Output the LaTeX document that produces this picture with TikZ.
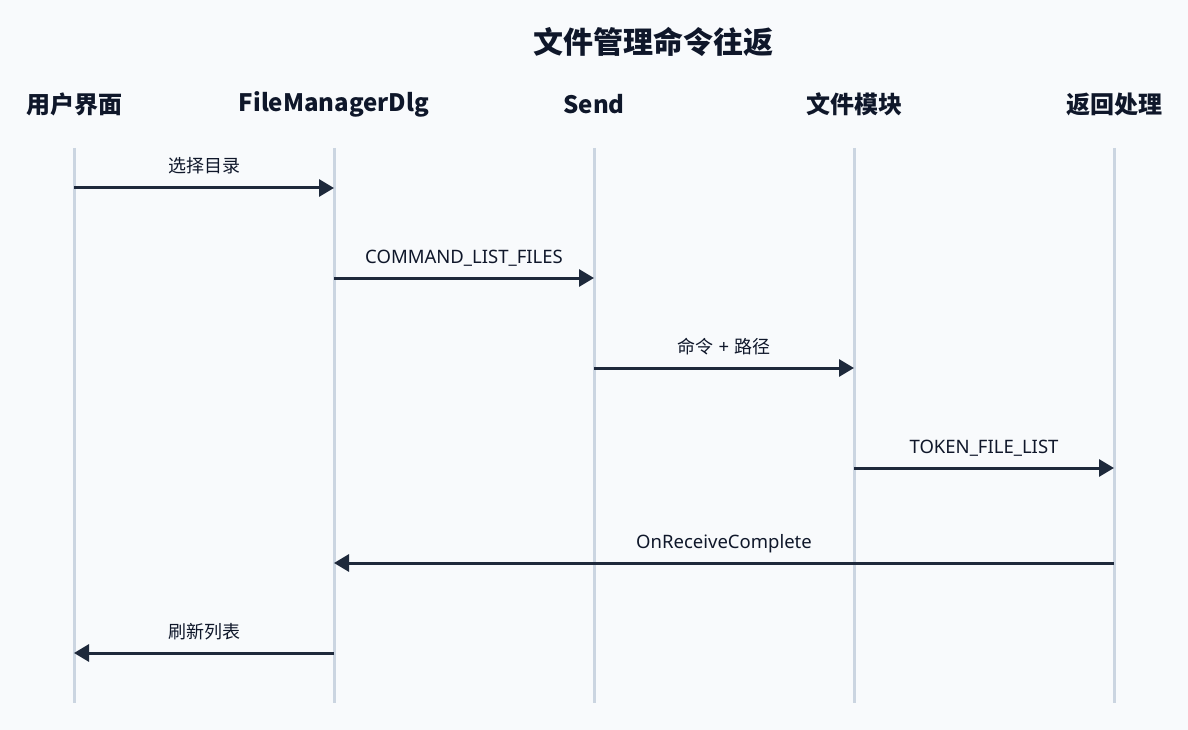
\documentclass[tikz,border=0pt]{standalone}
\usepackage{fontspec}
\setmainfont{Noto Sans}
\newfontfamily\cjk{Noto Sans CJK SC}
\usetikzlibrary{arrows.meta}
\definecolor{bgc}{HTML}{F8FAFC}
\definecolor{lifec}{HTML}{CBD5E1}
\definecolor{msgc}{HTML}{1E293B}
\definecolor{txtc}{HTML}{0F172A}
\tikzset{
  lifeline/.style={draw=lifec, line width=3pt},
  msg/.style={draw=msgc, line width=3pt, -{Triangle[length=15pt,width=17pt]}, shorten >=0pt},
  msglabel/.style={font=\fontsize{18.5}{22}\selectfont, text=txtc, inner sep=0pt, anchor=base},
  cjklabel/.style={font=\cjk\fontsize{18}{20}\selectfont, text=txtc, inner sep=0pt, anchor=base},
  header/.style={font=\cjk\bfseries\fontsize{24}{28}\selectfont, text=txtc, inner sep=0pt},
  titlestyle/.style={font=\cjk\bfseries\fontsize{30}{34}\selectfont, text=txtc, inner sep=0pt},
}
\begin{document}
\begin{tikzpicture}[x=1pt,y=-1pt]
\fill[bgc] (0,0) rectangle (1188,730);
\useasboundingbox (0,0) rectangle (1188,730);
\node[titlestyle] (title) at (653,42) {文件管理命令往返};
% headers
\node[header] (h1) at (74,104) {用户界面};
\node[header] (h2) at (334,104) {FileManagerDlg};
\node[header] (h3) at (594,104) {Send};
\node[header] (h4) at (854,104) {文件模块};
\node[header] (h5) at (1114,104) {返回处理};
% lifelines
\foreach \i/\x in {1/74,2/334,3/594,4/854,5/1114}{
  \coordinate (t\i) at (\x,148);
  \coordinate (b\i) at (\x,703);
  \draw[lifeline] (t\i) -- (b\i);
}
% message points
\coordinate (m1a) at (74,188);  \coordinate (m1b) at (334,188);
\coordinate (m2a) at (334,278); \coordinate (m2b) at (594,278);
\coordinate (m3a) at (594,368); \coordinate (m3b) at (854,368);
\coordinate (m4a) at (854,468); \coordinate (m4b) at (1114,468);
\coordinate (m5a) at (1114,563); \coordinate (m5b) at (334,563);
\coordinate (m6a) at (334,653); \coordinate (m6b) at (74,653);
\draw[msg] (m1a) -- (m1b);
\draw[msg] (m2a) -- (m2b);
\draw[msg] (m3a) -- (m3b);
\draw[msg] (m4a) -- (m4b);
\draw[msg] (m5a) -- (m5b);
\draw[msg] (m6a) -- (m6b);
\node[cjklabel] (l1) at (204,173) {选择目录};
\node[msglabel] (l2) at (464,263) {COMMAND\_LIST\_FILES};
\node[msglabel] (l3) at (724,353) {{\cjk\fontsize{18}{20}\selectfont 命令} + {\cjk\fontsize{18}{20}\selectfont 路径}};
\node[msglabel] (l4) at (984,453) {TOKEN\_FILE\_LIST};
\node[msglabel] (l5) at (724,548) {OnReceiveComplete};
\node[cjklabel] (l6) at (204,638) {刷新列表};
\end{tikzpicture}
\end{document}
